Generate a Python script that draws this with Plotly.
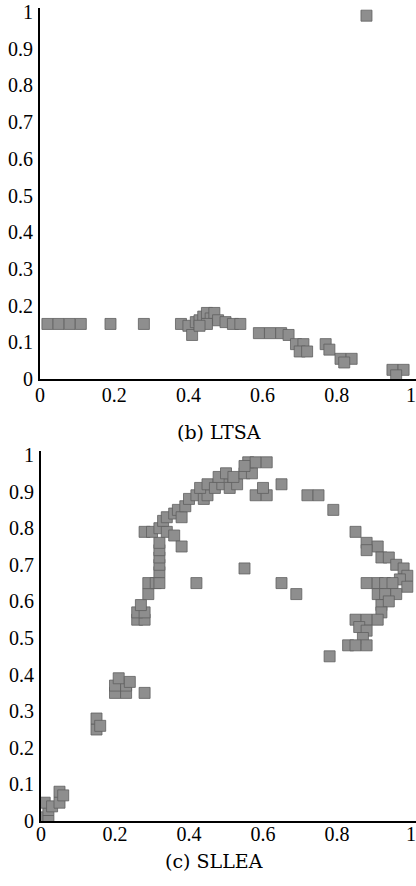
import plotly.graph_objects as go

# ---- data: (b) LTSA ----
ltsa_x = [0.02, 0.05, 0.08, 0.11, 0.19, 0.28,
          0.38, 0.40, 0.41, 0.42, 0.43, 0.44, 0.45, 0.46, 0.47, 0.48, 0.50, 0.52, 0.54, 0.45, 0.43,
          0.59, 0.62, 0.65, 0.67,
          0.69, 0.71, 0.70, 0.72,
          0.77, 0.78,
          0.81, 0.84, 0.82,
          0.95, 0.98, 0.96,
          0.88]
ltsa_y = [0.15, 0.15, 0.15, 0.15, 0.15, 0.15,
          0.15, 0.145, 0.12, 0.155, 0.16, 0.17, 0.18, 0.165, 0.18, 0.16, 0.155, 0.15, 0.15, 0.15, 0.145,
          0.125, 0.125, 0.125, 0.12,
          0.095, 0.095, 0.075, 0.075,
          0.095, 0.08,
          0.055, 0.055, 0.045,
          0.025, 0.025, 0.01,
          0.99]

# ---- data: (c) SLLEA ----
sllea_x = [0.01, 0.02, 0.01, 0.03, 0.02, 0.05, 0.05, 0.06,
           0.15, 0.15, 0.16,
           0.20, 0.23, 0.20, 0.23, 0.21, 0.24, 0.28,
           0.26, 0.28, 0.26, 0.28, 0.27,
           0.29, 0.29, 0.31, 0.32,
           0.32, 0.32, 0.32, 0.32, 0.32,
           0.28, 0.30, 0.32, 0.34, 0.36, 0.38,
           0.33, 0.34, 0.36, 0.37, 0.38, 0.39,
           0.40, 0.42, 0.44, 0.45,
           0.43, 0.45, 0.47, 0.49, 0.51, 0.53,
           0.48, 0.50, 0.52, 0.55, 0.57,
           0.56, 0.58, 0.61, 0.55,
           0.58, 0.61, 0.60, 0.65,
           0.72, 0.75, 0.79, 0.85,
           0.88, 0.91, 0.88,
           0.92, 0.94, 0.96, 0.98, 0.99, 0.97, 0.99,
           0.88, 0.91, 0.93, 0.95,
           0.91, 0.93, 0.96, 0.92, 0.94, 0.92,
           0.85, 0.88, 0.91, 0.86, 0.88, 0.87, 0.83, 0.85, 0.88,
           0.78, 0.55, 0.42, 0.65, 0.69]
sllea_y = [0.01, 0.03, 0.05, 0.04, 0.00, 0.05, 0.08, 0.07,
           0.25, 0.28, 0.26,
           0.35, 0.35, 0.37, 0.37, 0.39, 0.38, 0.35,
           0.55, 0.55, 0.57, 0.57, 0.59,
           0.62, 0.65, 0.65, 0.65,
           0.68, 0.70, 0.72, 0.74, 0.76,
           0.79, 0.79, 0.80, 0.79, 0.78, 0.75,
           0.82, 0.83, 0.84, 0.85, 0.83, 0.86,
           0.88, 0.89, 0.88, 0.89,
           0.91, 0.92, 0.91, 0.92, 0.91, 0.92,
           0.94, 0.95, 0.94, 0.95, 0.95,
           0.98, 0.98, 0.98, 0.97,
           0.89, 0.89, 0.91, 0.92,
           0.89, 0.89, 0.85, 0.79,
           0.76, 0.75, 0.74,
           0.72, 0.72, 0.70, 0.69, 0.67, 0.66, 0.64,
           0.65, 0.65, 0.65, 0.65,
           0.62, 0.62, 0.62, 0.59, 0.60, 0.57,
           0.55, 0.55, 0.55, 0.53, 0.52, 0.50, 0.48, 0.48, 0.48,
           0.45, 0.69, 0.65, 0.65, 0.62]

x_ticks = [0, 0.2, 0.4, 0.6, 0.8, 1]
x_ticktext = ["0", "0.2", "0.4", "0.6", "0.8", "1"]
y_ticks = [0, 0.1, 0.2, 0.3, 0.4, 0.5, 0.6, 0.7, 0.8, 0.9, 1]
y_ticktext = ["0", "0.1", "0.2", "0.3", "0.4", "0.5", "0.6", "0.7", "0.8", "0.9", "1"]
captions = ["(b) LTSA", "(c) SLLEA"]

W, H = 416, 886
marker = dict(symbol="square", size=11, color="#8e8e8e",
              line=dict(color="#606060", width=0.8))

fig = go.Figure()
fig.add_trace(go.Scatter(x=ltsa_x, y=ltsa_y, mode="markers", marker=marker,
                         xaxis="x", yaxis="y", showlegend=False, hoverinfo="skip"))
fig.add_trace(go.Scatter(x=sllea_x, y=sllea_y, mode="markers", marker=marker,
                         xaxis="x2", yaxis="y2", showlegend=False, hoverinfo="skip"))

tickfont = dict(family="Liberation Serif", size=20, color="black")
xcommon = dict(range=[0, 376 / 371], tickvals=x_ticks, ticktext=x_ticktext,
               showline=True, linecolor="black", linewidth=2.2, showgrid=False,
               zeroline=False, ticks="", tickfont=tickfont, automargin=False,
               ticklabeloverflow="allow")
ycommon = dict(range=[0, 1.012], tickvals=y_ticks, ticktext=y_ticktext,
               showline=True, linecolor="black", linewidth=2.2, showgrid=False,
               zeroline=False, ticks="", tickfont=tickfont, automargin=False,
               ticklabelstandoff=1, ticklabeloverflow="allow")

capfont = dict(family="DejaVu Serif", size=19, color="black")
fig.update_layout(
    width=W, height=H, margin=dict(l=0, r=0, t=0, b=0),
    paper_bgcolor="white", plot_bgcolor="white",
    xaxis=dict(domain=[40 / W, 1.0], anchor="y", ticklabelstandoff=-3, **xcommon),
    yaxis=dict(domain=[(H - 379) / H, (H - 7.6) / H], anchor="x", **ycommon),
    xaxis2=dict(domain=[41 / W, 1.0], anchor="y2", ticklabelstandoff=-6, **xcommon),
    yaxis2=dict(domain=[(H - 821) / H, (H - 450.6) / H], anchor="x2", **ycommon),
    annotations=[
        dict(text=captions[0], x=219 / W, y=(H - 432) / H, xref="paper", yref="paper",
             xanchor="center", yanchor="middle", showarrow=False, font=capfont),
        dict(text=captions[1], x=214 / W, y=(H - 861) / H, xref="paper", yref="paper",
             xanchor="center", yanchor="middle", showarrow=False, font=capfont),
    ],
)

fig.write_html("out.html")
